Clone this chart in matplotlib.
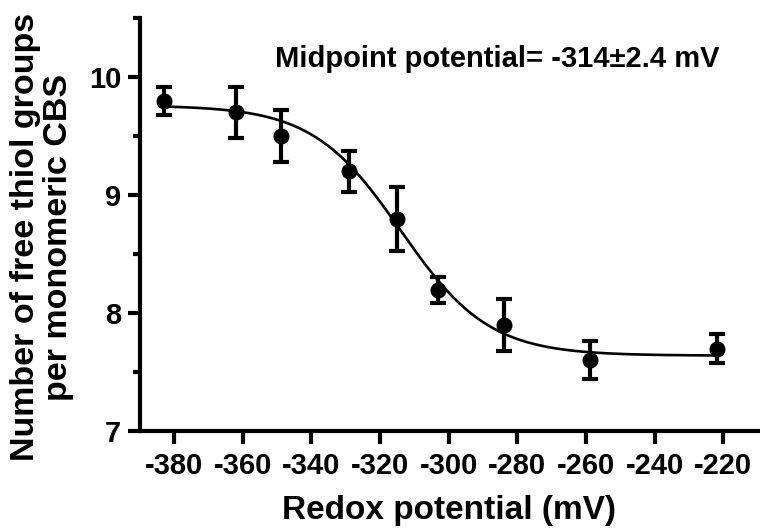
import numpy as np
import matplotlib
matplotlib.use("Agg")
import matplotlib.pyplot as plt
from matplotlib.ticker import MultipleLocator

# Data
potential_mv = [-383, -362, -349, -329, -315, -303, -284, -259, -222]
thiol_groups = [9.80, 9.70, 9.50, 9.20, 8.80, 8.20, 7.90, 7.60, 7.70]
thiol_err = [0.12, 0.22, 0.22, 0.17, 0.27, 0.11, 0.22, 0.16, 0.12]

# Nernst fit parameters
fit_top = 9.76
fit_bottom = 7.64
fit_midpoint = -314.0
fit_n = 2
annotation = "Midpoint potential= -314\u00b12.4 mV"
x_label = "Redox potential (mV)"
y_label = "Number of free thiol groups\nper monomeric CBS"

plt.rcParams['font.family'] = ['Liberation Sans', 'DejaVu Sans']
plt.rcParams['font.weight'] = 'bold'
plt.rcParams['axes.unicode_minus'] = False

fig = plt.figure(figsize=(7.6, 5.31), dpi=100)
ax = fig.add_axes([0.184, 0.188, 0.813, 0.778])

RT_F = 25.69
e_fit = np.linspace(min(potential_mv), max(potential_mv), 300)
y_fit = fit_bottom + (fit_top - fit_bottom) / (1 + np.exp(fit_n * (e_fit - fit_midpoint) / RT_F))
ax.plot(e_fit, y_fit, color='black', lw=1.9, zorder=2)

ax.errorbar(potential_mv, thiol_groups, yerr=thiol_err, fmt='o', color='black',
            markersize=10.5, elinewidth=3.0, capsize=6, capthick=3.0, zorder=3)

ax.set_xlim(-390, -210)
ax.set_ylim(7, 10.5)
ax.set_xticks(np.arange(-380, -219, 20))
ax.set_yticks([7, 8, 9, 10])
ax.yaxis.set_minor_locator(MultipleLocator(0.5))

for s in ['top', 'right']:
    ax.spines[s].set_visible(False)
for s in ['left', 'bottom']:
    ax.spines[s].set_linewidth(3.0)

ax.tick_params(axis='x', which='major', direction='out', length=9, width=3.0,
               labelsize=21, pad=6)
ax.tick_params(axis='y', which='major', direction='out', length=9, width=3.0,
               labelsize=21, pad=4.5)
ax.tick_params(axis='y', which='minor', direction='out', length=5, width=3.0)

for lab in ax.get_xticklabels() + ax.get_yticklabels():
    lab.set_fontweight('bold')

fig.text(0.591, 0.0377, x_label, fontsize=24, fontweight='bold',
         ha='center', va='center')
fig.text(0.055, 0.553, y_label, fontsize=24.5, fontweight='bold', rotation=90,
         ha='center', va='center', multialignment='center', linespacing=1.08)

ax.text(-285.8, 10.085, annotation, fontsize=21, fontweight='bold',
        ha='center', va='baseline')

fig.savefig("out.png", dpi=100)
